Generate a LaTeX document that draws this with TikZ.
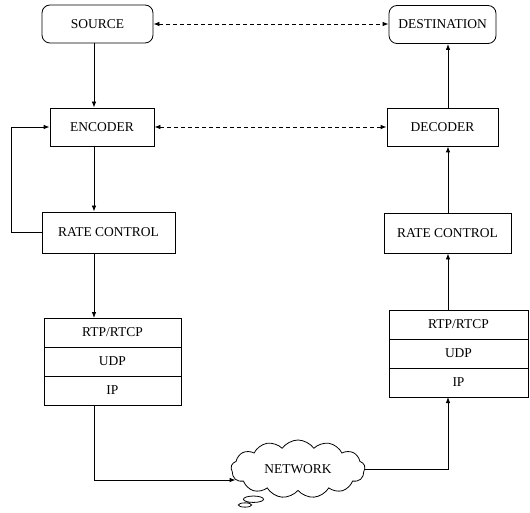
\documentclass[tikz,border=0pt]{standalone}
\usepackage{fontspec}
\setmainfont{Liberation Serif}
\usetikzlibrary{positioning,arrows.meta,shapes.symbols,shapes.callouts}

\begin{document}
\begin{tikzpicture}[x=1pt,y=-1pt,line width=0.8pt,
 >={Latex[length=6pt,width=4.5pt]},
 every node/.style={font=\fontsize{13.5}{15}\selectfont,inner sep=2pt},
 box/.style={draw,minimum height=38pt},
 rbox/.style={box,rounded corners=8pt},
 layer/.style={draw,minimum height=29pt,outer sep=0pt},
 link/.style={<->,dash pattern=on 4pt off 3pt}]
\useasboundingbox (0,0) rectangle (530,513);
\coordinate (lcol) at (94,0);
\coordinate (rcol) at (448,0);
\node[rbox,minimum width=111pt] (source) at (97.5,24) {SOURCE};
\node[rbox,minimum width=107pt] (dest) at (442.5,24.5) {DESTINATION};
\node[box,minimum width=104pt] (encoder) at (102,127) {ENCODER};
\node[box,minimum width=111pt] (decoder) at (442.5,127) {DECODER};
\node[box,minimum width=133pt,minimum height=41pt] (lrate) at (108.5,232.5) {RATE CONTROL};
\node[box,minimum width=127pt,minimum height=40pt] (rrate) at (447.5,233) {RATE CONTROL};
\node[layer,minimum width=137pt] (lrtp) at (112.5,332.5) {RTP/RTCP};
\node[layer,minimum width=137pt,below=0pt of lrtp] (ludp) {UDP};
\node[layer,minimum width=137pt,below=0pt of ludp] (lip) {IP};
\node[layer,minimum width=139pt] (rrtp) at (458.5,324.5) {RTP/RTCP};
\node[layer,minimum width=139pt,below=0pt of rrtp] (rudp) {UDP};
\node[layer,minimum width=139pt,below=0pt of rudp] (rip) {IP};
\node[cloud callout,draw,cloud puffs=13,cloud puff arc=110,aspect=2.2,
 minimum width=134pt,minimum height=58pt,inner sep=0pt,
 callout absolute pointer={(245,505)}] (network) at (298,469) {NETWORK};
\draw[link] (source.east) -- (source.east -| dest.west);
\draw[link] (encoder.east) -- (decoder.west);
\draw[->] (source.south -| lcol) -- (encoder.north -| lcol);
\draw[->] (encoder.south -| lcol) -- (lrate.north -| lcol);
\draw[->] (lrate.west) -- ++(-30,0) |- (encoder.west);
\draw[->] (lrate.south -| lcol) -- (lrtp.north -| lcol);
\draw[->] (lip.south -| lcol) |- (network.190);
\draw[->] (network.east) -| (rip.south -| rcol);
\draw[->] (rrtp.north -| rcol) -- (rrate.south -| rcol);
\draw[->] (rrate.north -| rcol) -- (decoder.south -| rcol);
\draw[->] (decoder.north -| rcol) -- (dest.south -| rcol);
\end{tikzpicture}
\end{document}
